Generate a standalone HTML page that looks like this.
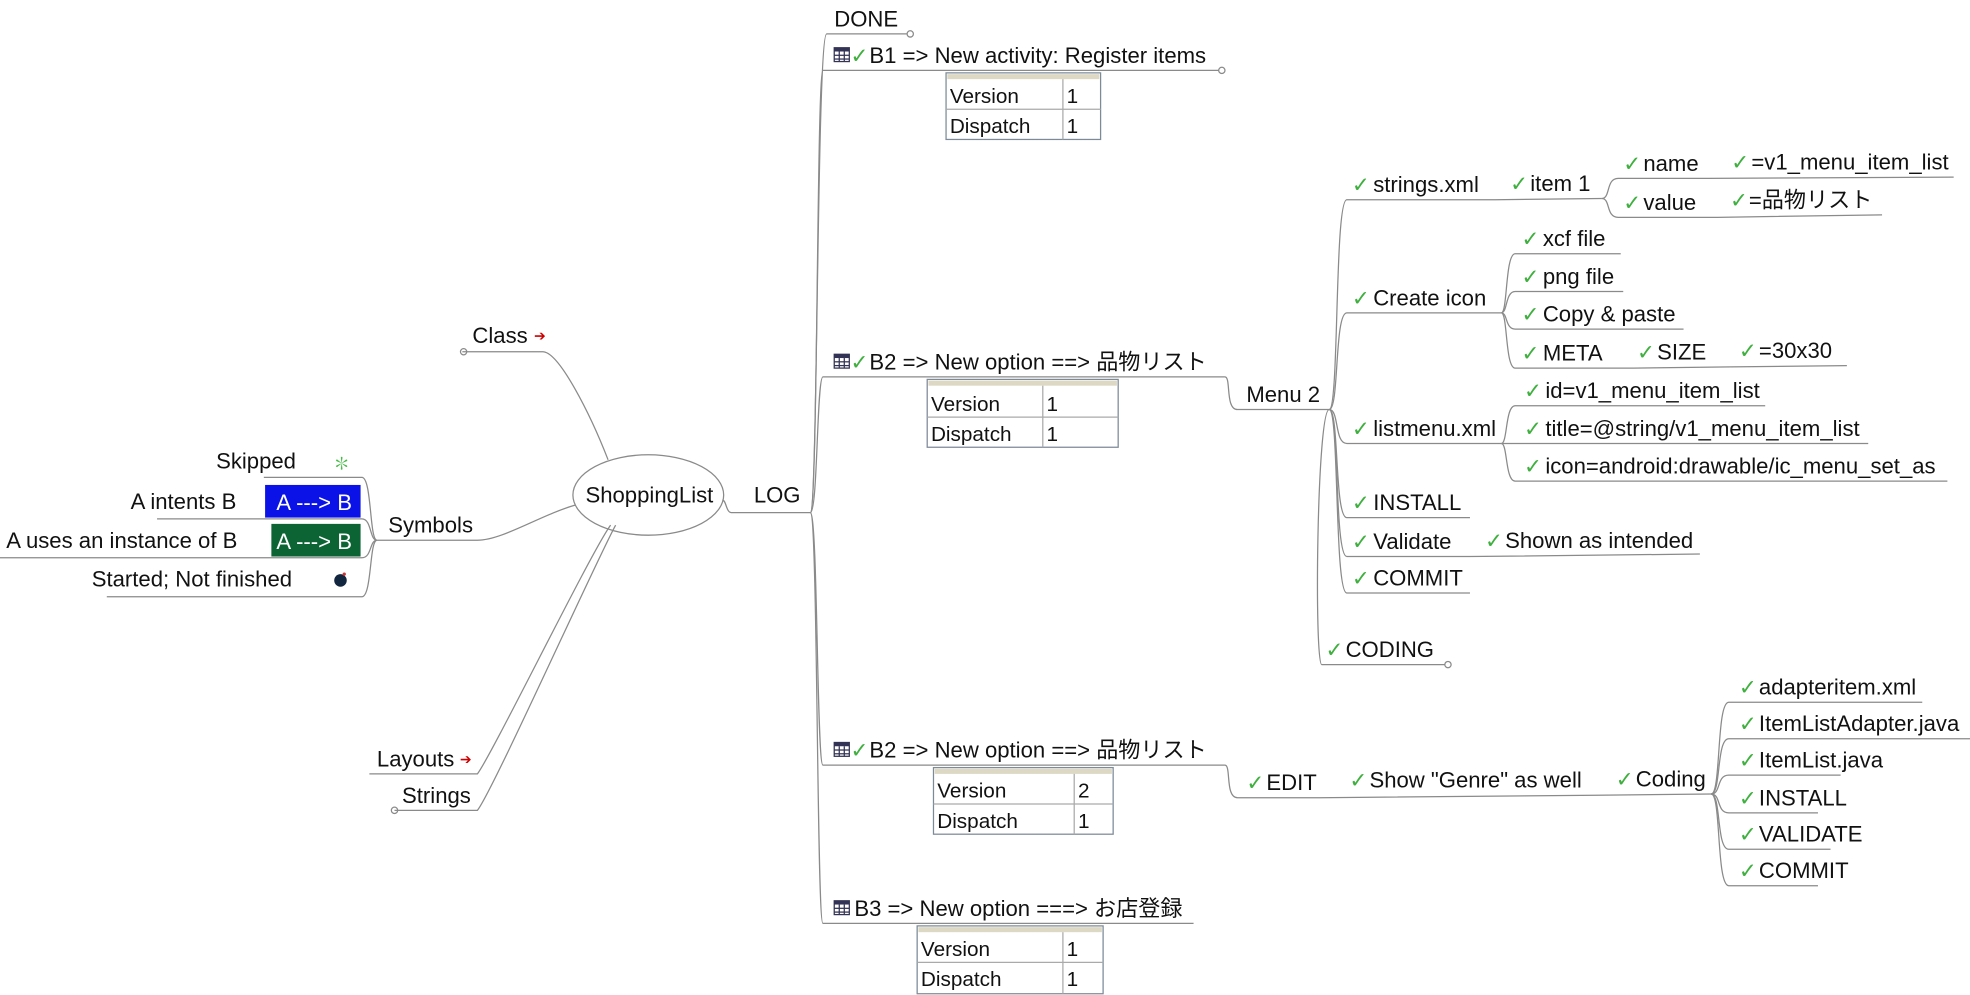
<!DOCTYPE html>
<html><head><meta charset="utf-8"><style>
html,body{margin:0;padding:0;background:#fff;}
svg{display:block}
text{font-family:"Liberation Sans","Noto Sans CJK JP",sans-serif;font-size:17.6px;fill:#111}
.t{font-size:16.5px}
.c{fill:#3fb03f;font-family:"DejaVu Sans",sans-serif;font-size:17px;font-weight:bold}
.l{fill:none;stroke:#8a8a8a;stroke-width:1}
</style></head><body>
<svg width="1970" height="995" viewBox="0 0 1568 792" preserveAspectRatio="none" xmlns="http://www.w3.org/2000/svg">
<defs>
<g id="tbl"><rect x="0" y="0" width="12" height="11" fill="#fff" stroke="#335" stroke-width="1"/><rect x="0" y="0" width="12" height="3" fill="#335"/><line x1="4" y1="3" x2="4" y2="11" stroke="#335"/><line x1="8" y1="3" x2="8" y2="11" stroke="#335"/><line x1="0" y1="6" x2="12" y2="6" stroke="#335"/><line x1="0" y1="9" x2="12" y2="9" stroke="#335"/></g>
</defs>
<g class="l">
<ellipse cx="516" cy="394" rx="60" ry="32"/>
<path d="M575 398 C578 398,578 408,582 408 L645 408"/>
<path d="M645 408 C651 408,650 27,658 27 L722 27"/><circle cx="724.5" cy="27" r="2.5"/>
<path d="M645 408 C651 408,650 56,655 56 L970 56"/><circle cx="972.5" cy="56" r="2.5"/>
<path d="M645 408 C651 408,650 300,655 300 L975 300"/>
<path d="M645 408 C651 408,650 609,655 609 L975 609"/>
<path d="M645 408 C651 408,650 735,655 735 L950 735"/>
<path d="M975 300 C980 300,975 326,985 326 L1058 326"/>
<path d="M1058 326 C1066 326,1062 159,1072 159 L1190 159 L1275 158"/>
<path d="M1275 158 C1282 158,1278 142,1288 142 L1360 142 L1555 141"/>
<path d="M1275 158 C1282 158,1278 173,1288 173 L1367 173 L1498 171"/>
<path d="M1058 326 C1066 326,1062 249,1072 249 L1195 249"/>
<path d="M1195 249 C1200 249,1198 202,1206 202 L1290 202"/>
<path d="M1195 249 C1200 249,1198 232,1206 232 L1292 232"/>
<path d="M1195 249 C1200 249,1198 262,1206 262 L1340 262"/>
<path d="M1195 249 C1200 249,1198 293,1206 293 L1300 293 L1378 292 L1470 291"/>
<path d="M1058 326 C1066 326,1062 353,1072 353 L1195 353"/>
<path d="M1195 353 C1200 353,1198 323,1206 323 L1405 323"/>
<path d="M1195 353 L1487 353"/>
<path d="M1195 353 C1200 353,1198 383,1206 383 L1550 383"/>
<path d="M1058 326 C1066 326,1062 412,1072 412 L1170 412"/>
<path d="M1058 326 C1066 326,1062 443,1072 443 L1170 443 L1353 441"/>
<path d="M1058 326 C1066 326,1062 472,1072 472 L1170 472"/>
<path d="M1058 326 C1048 326,1046 529,1052 529 L1150 529"/><circle cx="1152.5" cy="529" r="2.5"/>
<path d="M975 609 C980 609,975 635,985 635 L1050 635 L1270 633 L1362 632"/>
<path d="M1362 632 C1370 632,1366 559,1376 559 L1530 559"/>
<path d="M1362 632 C1370 632,1366 588,1376 588 L1568 588"/>
<path d="M1362 632 C1370 632,1366 617,1376 617 L1465 617"/>
<path d="M1362 632 C1370 632,1366 647,1376 647 L1447 647"/>
<path d="M1362 632 C1370 632,1366 676,1376 676 L1457 676"/>
<path d="M1362 632 C1370 632,1366 705,1376 705 L1447 705"/>
<path d="M368 280 L432 280 C445 280,470 330,484 366"/><circle cx="369" cy="280" r="2.5"/>
<path d="M300 430 L380 430 C400 430,430 410,458 402"/>
<path d="M300 430 C294 430,296 380,288 380 L210 380"/>
<path d="M300 430 C294 430,296 413,288 413 L125 413"/>
<path d="M300 430 C294 430,296 444,288 444 L0 444"/>
<path d="M300 430 C294 430,296 475,288 475 L85 475"/>
<path d="M294 616 L380 616 C392 600,470 440,486 418"/>
<path d="M314 645 L380 645 C392 630,475 445,490 418"/><circle cx="314" cy="645" r="2.5"/>
</g>
<text x="466" y="400">ShoppingList</text>
<text x="600" y="400">LOG</text>
<text x="664" y="21">DONE</text>
<use href="#tbl" x="664" y="38"/><text class="c" x="677" y="50">✓</text><text x="692" y="50">B1 =&gt; New activity: Register items</text>
<use href="#tbl" x="664" y="282"/><text class="c" x="677" y="294">✓</text><text x="692" y="294">B2 =&gt; New option ==&gt; 品物リスト</text>
<use href="#tbl" x="664" y="591"/><text class="c" x="677" y="603">✓</text><text x="692" y="603">B2 =&gt; New option ==&gt; 品物リスト</text>
<use href="#tbl" x="664" y="717"/><text x="680" y="729">B3 =&gt; New option ===&gt; お店登録</text>
<g>
<rect x="753" y="58" width="123" height="53" fill="#fff" stroke="#7d8a98"/><rect x="754" y="59" width="121" height="4" fill="#ddd8c4"/><line x1="753" y1="87" x2="876" y2="87" stroke="#aaa"/><line x1="846" y1="63" x2="846" y2="111" stroke="#aaa"/>
<text class="t" x="756" y="82">Version</text><text class="t" x="849" y="82">1</text><text class="t" x="756" y="106">Dispatch</text><text class="t" x="849" y="106">1</text>
<rect x="738" y="302" width="152" height="54" fill="#fff" stroke="#7d8a98"/><rect x="739" y="303" width="150" height="4" fill="#ddd8c4"/><line x1="738" y1="332" x2="890" y2="332" stroke="#aaa"/><line x1="830" y1="307" x2="830" y2="356" stroke="#aaa"/>
<text class="t" x="741" y="327">Version</text><text class="t" x="833" y="327">1</text><text class="t" x="741" y="351">Dispatch</text><text class="t" x="833" y="351">1</text>
<rect x="743" y="611" width="143" height="53" fill="#fff" stroke="#7d8a98"/><rect x="744" y="612" width="141" height="4" fill="#ddd8c4"/><line x1="743" y1="640" x2="886" y2="640" stroke="#aaa"/><line x1="855" y1="616" x2="855" y2="664" stroke="#aaa"/>
<text class="t" x="746" y="635">Version</text><text class="t" x="858" y="635">2</text><text class="t" x="746" y="659">Dispatch</text><text class="t" x="858" y="659">1</text>
<rect x="730" y="737" width="148" height="54" fill="#fff" stroke="#7d8a98"/><rect x="731" y="738" width="146" height="4" fill="#ddd8c4"/><line x1="730" y1="766" x2="878" y2="766" stroke="#aaa"/><line x1="846" y1="742" x2="846" y2="791" stroke="#aaa"/>
<text class="t" x="733" y="761">Version</text><text class="t" x="849" y="761">1</text><text class="t" x="733" y="785">Dispatch</text><text class="t" x="849" y="785">1</text>
</g>
<text x="992" y="320">Menu 2</text>
<text class="c" x="1076" y="153">✓</text><text x="1093" y="153">strings.xml</text>
<text class="c" x="1202" y="152">✓</text><text x="1218" y="152">item 1</text>
<text class="c" x="1292" y="136">✓</text><text x="1308" y="136">name</text>
<text class="c" x="1378" y="135">✓</text><text x="1394" y="135">=v1_menu_item_list</text>
<text class="c" x="1292" y="167">✓</text><text x="1308" y="167">value</text>
<text class="c" x="1377" y="165">✓</text><text x="1392" y="165">=品物リスト</text>
<text class="c" x="1076" y="243">✓</text><text x="1093" y="243">Create icon</text>
<text class="c" x="1211" y="196">✓</text><text x="1228" y="196">xcf file</text>
<text class="c" x="1211" y="226">✓</text><text x="1228" y="226">png file</text>
<text class="c" x="1211" y="256">✓</text><text x="1228" y="256">Copy &amp; paste</text>
<text class="c" x="1211" y="287">✓</text><text x="1228" y="287">META</text>
<text class="c" x="1303" y="286">✓</text><text x="1319" y="286">SIZE</text>
<text class="c" x="1384" y="285">✓</text><text x="1400" y="285">=30x30</text>
<text class="c" x="1076" y="347">✓</text><text x="1093" y="347">listmenu.xml</text>
<text class="c" x="1213" y="317">✓</text><text x="1230" y="317">id=v1_menu_item_list</text>
<text class="c" x="1213" y="347">✓</text><text x="1230" y="347">title=@string/v1_menu_item_list</text>
<text class="c" x="1213" y="377">✓</text><text x="1230" y="377">icon=android:drawable/ic_menu_set_as</text>
<text class="c" x="1076" y="406">✓</text><text x="1093" y="406">INSTALL</text>
<text class="c" x="1076" y="437">✓</text><text x="1093" y="437">Validate</text>
<text class="c" x="1182" y="436">✓</text><text x="1198" y="436">Shown as intended</text>
<text class="c" x="1076" y="466">✓</text><text x="1093" y="466">COMMIT</text>
<text class="c" x="1055" y="523">✓</text><text x="1071" y="523">CODING</text>
<text class="c" x="992" y="629">✓</text><text x="1008" y="629">EDIT</text>
<text class="c" x="1074" y="627">✓</text><text x="1090" y="627">Show "Genre" as well</text>
<text class="c" x="1286" y="626">✓</text><text x="1302" y="626">Coding</text>
<text class="c" x="1384" y="553">✓</text><text x="1400" y="553">adapteritem.xml</text>
<text class="c" x="1384" y="582">✓</text><text x="1400" y="582">ItemListAdapter.java</text>
<text class="c" x="1384" y="611">✓</text><text x="1400" y="611">ItemList.java</text>
<text class="c" x="1384" y="641">✓</text><text x="1400" y="641">INSTALL</text>
<text class="c" x="1384" y="670">✓</text><text x="1400" y="670">VALIDATE</text>
<text class="c" x="1384" y="699">✓</text><text x="1400" y="699">COMMIT</text>
<text x="376" y="273">Class</text><text x="425" y="271" style="fill:#c00;font-size:11px">➔</text>
<text x="309" y="424">Symbols</text>
<text x="172" y="373">Skipped</text><text x="265" y="374" style="fill:#4b4;font-size:14px">✽</text>
<text x="104" y="405">A intents B</text>
<rect x="211" y="386" width="76" height="26" fill="#0a12e8"/><text x="220" y="406" style="fill:#fff">A ---&gt; B</text>
<text x="5" y="436">A uses an instance of B</text>
<rect x="216" y="417" width="71" height="26" fill="#0c6434"/><text x="220" y="437" style="fill:#fff">A ---&gt; B</text>
<text x="73" y="467">Started; Not finished</text>
<circle cx="271" cy="462" r="5" fill="#122640"/><circle cx="274" cy="457" r="1.3" fill="#c33"/>
<text x="300" y="610">Layouts</text><text x="366" y="608" style="fill:#c00;font-size:11px">➔</text>
<text x="320" y="639">Strings</text>
</svg>
</body></html>
